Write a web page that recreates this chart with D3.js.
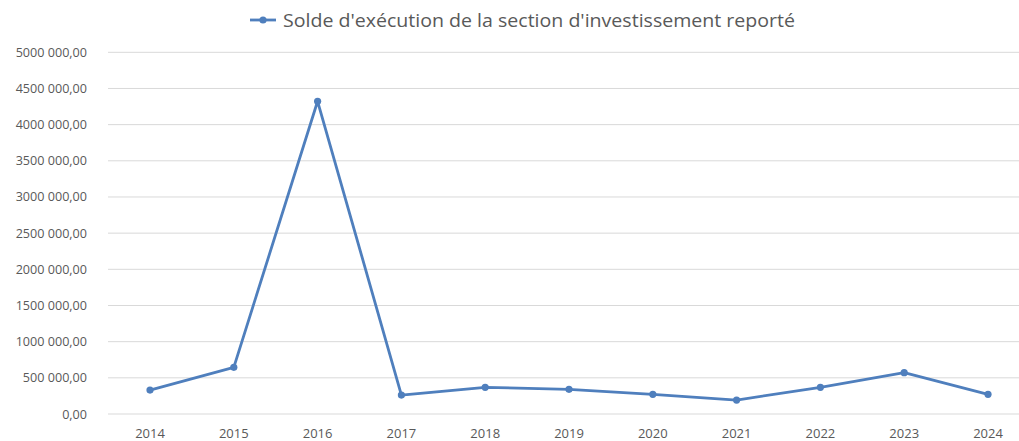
<!DOCTYPE html>
<html><head><meta charset="utf-8">
<script src="https://cdn.jsdelivr.net/npm/d3@7"></script>
<style>body{margin:0;background:#fff}svg{display:block}</style>
</head><body>
<svg id="c" width="1019" height="441"></svg>
<script>
const years = ["2014","2015","2016","2017","2018","2019","2020","2021","2022","2023","2024"];
const values = [331000, 645000, 4323000, 262000, 369000, 341000, 272000, 193000, 369000, 571000, 272000];
const yTicks = [0,500000,1000000,1500000,2000000,2500000,3000000,3500000,4000000,4500000,5000000];
const seriesName = "Solde d'exécution de la section d'investissement reporté";

const svg = d3.select("#c");
const W = 1019, H = 441;
const x = d3.scalePoint().domain(years).range([150, 988]);
const y = d3.scaleLinear().domain([0, 5000000]).range([414, 52.3]);
const color = "#4f7fbd";
const font = "Open Sans, Liberation Sans, sans-serif";

function fmt(v){
  if (v === 0) return "0,00";
  const k = Math.floor(v/1000), r = v % 1000;
  return k + " " + String(r).padStart(3,"0") + ",00";
}

// gridlines
svg.append("g").selectAll("line").data(yTicks).join("line")
  .attr("x1",108).attr("x2",W).attr("y1",d=>y(d)).attr("y2",d=>y(d))
  .attr("stroke","#d9d9d9").attr("stroke-width",1);

// y labels
svg.append("g").selectAll("text").data(yTicks).join("text")
  .attr("x",87).attr("y",d=>y(d)+4.5)
  .attr("text-anchor","end").attr("font-family",font).attr("font-size",12.6)
  .attr("fill","#595959").text(fmt);

// x labels
svg.append("g").selectAll("text").data(years).join("text")
  .attr("x",d=>x(d)).attr("y",438)
  .attr("text-anchor","middle").attr("font-family",font).attr("font-size",13)
  .attr("fill","#595959").text(d=>d);

const data = years.map((d,i)=>({year:d, value:values[i]}));
svg.append("path").datum(data)
  .attr("fill","none").attr("stroke",color).attr("stroke-width",2.8)
  .attr("stroke-linejoin","round")
  .attr("d", d3.line().x(d=>x(d.year)).y(d=>y(d.value)));
svg.append("g").selectAll("circle").data(data).join("circle")
  .attr("cx",d=>x(d.year)).attr("cy",d=>y(d.value)).attr("r",3.6).attr("fill",color);

// legend/title
const lg = svg.append("g");
lg.append("line").attr("x1",250).attr("x2",276).attr("y1",20).attr("y2",20)
  .attr("stroke",color).attr("stroke-width",2.8);
lg.append("circle").attr("cx",263).attr("cy",20).attr("r",3.6).attr("fill",color);
lg.append("text").attr("x",283).attr("y",27).attr("font-family",font)
  .attr("font-size",18.5).attr("fill","#595959")
  .attr("textLength",512).attr("lengthAdjust","spacingAndGlyphs").text(seriesName);
</script>
</body></html>
